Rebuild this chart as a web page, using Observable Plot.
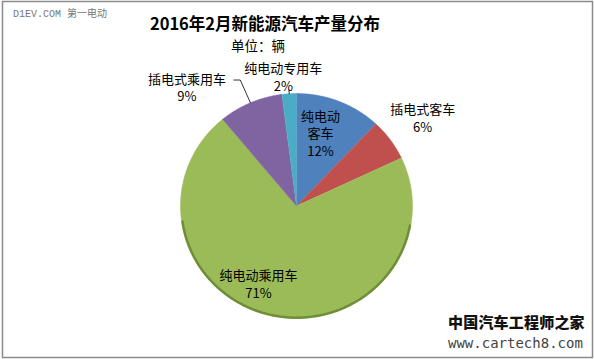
<!DOCTYPE html>
<html><head><meta charset="utf-8">
<script src="https://cdn.jsdelivr.net/npm/d3@7"></script>
<script src="https://cdn.jsdelivr.net/npm/@observablehq/plot@0.6"></script>
<style>
body{margin:0;background:#fff;}
#wrap{position:relative;width:594px;height:359px;font-family:"Noto Sans CJK SC","Noto Sans",sans-serif;overflow:hidden;}
#chart{position:absolute;left:0;top:0;}
.t{position:absolute;white-space:nowrap;line-height:1;}
#title{left:265px;top:15px;transform:translateX(-50%);font-size:16.5px;font-weight:bold;color:#000;}
#sub{left:258px;top:39px;transform:translateX(-50%);font-size:13.5px;color:#000;}
#wm1{left:13px;top:10px;font-size:10px;color:#777;font-family:"Liberation Mono","Noto Sans CJK SC",monospace;}
#wm2{left:448px;top:314px;font-size:15px;font-weight:900;color:#111;letter-spacing:0.2px;}
#wm3{left:448px;top:336px;font-size:14px;color:#444;font-family:"DejaVu Sans Mono",monospace;}
</style></head><body>
<div id="wrap">
<div id="chart"></div>
<div class="t" id="wm1">D1EV.COM 第一电动</div>
<div class="t" id="title">2016年2月新能源汽车产量分布</div>
<div class="t" id="sub">单位：辆</div>
<div class="t" id="wm2">中国汽车工程师之家</div>
<div class="t" id="wm3">www.cartech8.com</div>
</div>
<script>
// ---- data ----
const categories = ["纯电动客车", "插电式客车", "纯电动乘用车", "插电式乘用车", "纯电动专用车"];
const shares = [12, 6, 71, 9, 2];
const labelNames = ["纯电动\n客车", "插电式客车", "纯电动乘用车", "插电式乘用车", "纯电动专用车"];
const colors = ["#4f81bd", "#c0504d", "#9bbb59", "#8064a2", "#4bacc6"];

// ---- layout (label placement, degrees offset from slice middle and radius factor) ----
const labelAngleShift = [-4, 0, 13, -18.3, -2];
const labelRadius = [0.685, 1.344, 0.76, 1.42, 1.16];
const leaderOuter = [null, null, null, 1.22, 1.035];

const rows = categories.map((c, i) => ({key: c, value: shares[i], i}));
const arcs = d3.pie().value(d => d.value).sort(null)(rows);

const deg = Math.PI / 180;
const polar = (a, r) => ({x: r * Math.sin(a), y: r * Math.cos(a)});

// slice polygons
const slicePts = [];
for (const a of arcs) {
  const n = Math.max(2, Math.ceil((a.endAngle - a.startAngle) / (0.5 * deg)));
  slicePts.push({key: a.data.key, ...polar(0, 0)});
  for (let k = 0; k <= n; k++) {
    const t = a.startAngle + (a.endAngle - a.startAngle) * k / n;
    slicePts.push({key: a.data.key, ...polar(t, 1)});
  }
}

// bottom rim shading (darker edge)
const rim = [];
for (let t = 100; t <= 262; t += 1) rim.push({...polar(t * deg, 0.993)});

// labels
const labels = arcs.map((a, i) => {
  const mid = (a.startAngle + a.endAngle) / 2 + labelAngleShift[i] * deg;
  return {...polar(mid, labelRadius[i]), text: labelNames[i] + "\n" + a.data.value + "%"};
});

// leader lines
const leaders = [];
arcs.forEach((a, i) => {
  if (leaderOuter[i] == null) return;
  const mid = (a.startAngle + a.endAngle) / 2;
  const p0 = polar(mid, 1), p1 = polar(mid, leaderOuter[i]);
  leaders.push({key: i, ...p0});
  leaders.push({key: i, ...p1});
  if (i === 3) leaders.push({key: i, x: p1.x - 0.055, y: p1.y});
});

const chart = Plot.plot({
  width: 594,
  height: 359,
  margin: 0,
  x: {domain: [-1, 1], range: [180, 412], axis: null},
  y: {domain: [-1, 1], range: [318, 93], axis: null},
  color: {domain: categories, range: colors},
  marks: [
    Plot.frame({stroke: "#8a8a8a", strokeWidth: 1.5, insetLeft: 2, insetTop: 1, insetRight: 2, insetBottom: 2}),
    Plot.line(slicePts, {x: "x", y: "y", z: "key", fill: "key", stroke: "key", strokeWidth: 0.5, curve: "linear"}),
    Plot.line(rim, {x: "x", y: "y", stroke: "#5f7d2c", strokeWidth: 2.5, strokeOpacity: 0.75, curve: "linear"}),
    Plot.line(leaders, {x: "x", y: "y", z: "key", stroke: "#000", strokeWidth: 0.8}),
    Plot.text(labels, {x: "x", y: "y", text: "text", fontSize: 13, lineHeight: 1.35, fill: "#000", fontFamily: "Noto Sans CJK SC"})
  ]
});
document.getElementById("chart").appendChild(chart);
</script>
</body></html>
